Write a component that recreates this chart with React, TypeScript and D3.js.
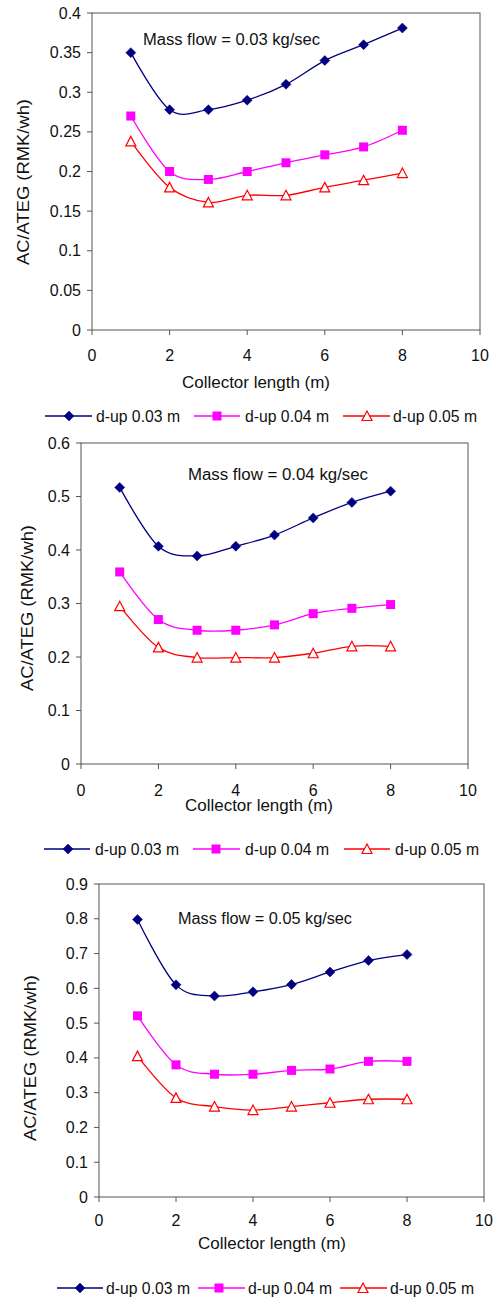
import React from "react";
import * as d3 from "d3";

const lengths = [1, 2, 3, 4, 5, 6, 7, 8];
const seriesNames = ["d-up 0.03 m", "d-up 0.04 m", "d-up 0.05 m"];
const xTicks = [0, 2, 4, 6, 8, 10];

const p1Titles = "Mass flow = 0.03 kg/sec";
const p1Up003 = [0.35, 0.278, 0.278, 0.29, 0.31, 0.34, 0.36, 0.381];
const p1Up004 = [0.27, 0.2, 0.19, 0.2, 0.211, 0.221, 0.231, 0.252];
const p1Up005 = [0.238, 0.18, 0.161, 0.17, 0.17, 0.18, 0.189, 0.198];
const p1YTicks = [0, 0.05, 0.1, 0.15, 0.2, 0.25, 0.3, 0.35, 0.4];

const p2Titles = "Mass flow = 0.04 kg/sec";
const p2Up003 = [0.517, 0.407, 0.389, 0.407, 0.428, 0.46, 0.489, 0.51];
const p2Up004 = [0.359, 0.27, 0.25, 0.25, 0.26, 0.281, 0.291, 0.298];
const p2Up005 = [0.295, 0.218, 0.199, 0.199, 0.199, 0.207, 0.22, 0.22];
const p2YTicks = [0, 0.1, 0.2, 0.3, 0.4, 0.5, 0.6];

const p3Titles = "Mass flow = 0.05 kg/sec";
const p3Up003 = [0.798, 0.61, 0.578, 0.59, 0.611, 0.647, 0.68, 0.697];
const p3Up004 = [0.521, 0.38, 0.353, 0.353, 0.364, 0.368, 0.39, 0.39];
const p3Up005 = [0.405, 0.285, 0.26, 0.25, 0.26, 0.271, 0.281, 0.281];
const p3YTicks = [0, 0.1, 0.2, 0.3, 0.4, 0.5, 0.6, 0.7, 0.8, 0.9];

const colors = ["#000080", "#ff00ff", "#ff0000"];
const FONT = "Arial, 'Liberation Sans', sans-serif";
const TXT = "#111";
const AX = "#555";
const FS = 16;

function Marker({ kind, x, y }: { kind: number; x: number; y: number }) {
  if (kind === 0) {
    const r = 5;
    return (
      <path
        d={`M${x},${y - r}L${x + r},${y}L${x},${y + r}L${x - r},${y}Z`}
        fill={colors[0]}
        stroke={colors[0]}
        strokeWidth={0.5}
      />
    );
  }
  if (kind === 1) {
    const s = 9;
    return <rect x={x - s / 2} y={y - s / 2} width={s} height={s} fill={colors[1]} />;
  }
  const h = 9;
  const w = 10;
  return (
    <path
      d={`M${x},${y - h / 2 - 0.5}L${x + w / 2},${y + h / 2}L${x - w / 2},${y + h / 2}Z`}
      fill="#fff"
      stroke={colors[2]}
      strokeWidth={1.2}
    />
  );
}

type PanelCfg = {
  left: number;
  right: number;
  top: number;
  bottom: number;
  yMax: number;
  yTicks: number[];
  series: number[][];
  title: string;
  titleX: number;
  titleY: number;
  titleW: number;
  xLabelY: number;
  xTitleX: number;
  xTitleY: number;
  yTitleX: number;
  yTitleY: number;
  legendY: number;
  legend: { x1: number; x2: number; m: number; t: number }[];
};

function Panel({ c }: { c: PanelCfg }) {
  const x = d3.scaleLinear().domain([0, 10]).range([c.left, c.right]);
  const y = d3.scaleLinear().domain([0, c.yMax]).range([c.bottom, c.top]);
  const line = d3
    .line<number>()
    .x((_, i) => x(lengths[i]))
    .y((d) => y(d))
    .curve(d3.curveCardinal.tension(0));
  const fmt = (v: number) => String(+v.toFixed(2));
  return (
    <g>
      <rect
        x={c.left}
        y={c.top}
        width={c.right - c.left}
        height={c.bottom - c.top}
        fill="none"
        stroke={AX}
        strokeWidth={1}
      />
      {c.yTicks.map((t) => (
        <g key={"y" + t}>
          <line x1={c.left - 5} x2={c.left} y1={y(t)} y2={y(t)} stroke={AX} />
          <text
            x={c.left - 11}
            y={y(t)}
            dy="0.35em"
            textAnchor="end"
            fontSize={FS}
            fontFamily={FONT}
            fill={TXT}
          >
            {fmt(t)}
          </text>
        </g>
      ))}
      {xTicks.map((t) => (
        <g key={"x" + t}>
          <line x1={x(t)} x2={x(t)} y1={c.bottom} y2={c.bottom + 5} stroke={AX} />
          <text
            x={x(t)}
            y={c.xLabelY}
            dy="0.35em"
            textAnchor="middle"
            fontSize={FS}
            fontFamily={FONT}
            fill={TXT}
          >
            {t}
          </text>
        </g>
      ))}
      <text
        x={c.xTitleX}
        y={c.xTitleY}
        dy="0.35em"
        textAnchor="middle"
        fontSize={FS}
        fontFamily={FONT}
        fill={TXT}
        textLength={148}
        lengthAdjust="spacingAndGlyphs"
      >
        Collector length (m)
      </text>
      <text
        transform={`translate(${c.yTitleX},${c.yTitleY}) rotate(-90)`}
        dy="0.35em"
        textAnchor="middle"
        fontSize={FS}
        fontFamily={FONT}
        fill={TXT}
        textLength={166}
        lengthAdjust="spacingAndGlyphs"
      >
        AC/ATEG (RMK/wh)
      </text>
      <text
        x={c.titleX}
        y={c.titleY}
        dy="0.35em"
        fontSize={FS}
        fontFamily={FONT}
        fill={TXT}
        textLength={c.titleW}
        lengthAdjust="spacingAndGlyphs"
      >
        {c.title}
      </text>
      {c.series.map((s, k) => (
        <g key={"s" + k}>
          <path d={line(s) || ""} fill="none" stroke={colors[k]} strokeWidth={1.3} />
          {s.map((v, i) => (
            <Marker key={i} kind={k} x={x(lengths[i])} y={y(v)} />
          ))}
        </g>
      ))}
      {c.legend.map((l, k) => (
        <g key={"l" + k}>
          <line x1={l.x1} x2={l.x2} y1={c.legendY} y2={c.legendY} stroke={colors[k]} strokeWidth={1.3} />
          <Marker kind={k} x={l.m} y={c.legendY} />
          <text
            x={l.t}
            y={c.legendY}
            dy="0.35em"
            fontSize={FS}
            fontFamily={FONT}
            fill={TXT}
            textLength={84}
            lengthAdjust="spacingAndGlyphs"
          >
            {seriesNames[k]}
          </text>
        </g>
      ))}
    </g>
  );
}

const panels: PanelCfg[] = [
  {
    left: 92, right: 480, top: 13, bottom: 330, yMax: 0.4, yTicks: p1YTicks,
    series: [p1Up003, p1Up004, p1Up005], title: p1Titles, titleX: 143, titleY: 39, titleW: 177,
    xLabelY: 355, xTitleX: 256, xTitleY: 382, yTitleX: 23, yTitleY: 182, legendY: 416,
    legend: [
      { x1: 45, x2: 92, m: 69, t: 96 },
      { x1: 194, x2: 240, m: 217, t: 245 },
      { x1: 343, x2: 390, m: 367, t: 393 },
    ],
  },
  {
    left: 81, right: 468, top: 443, bottom: 764, yMax: 0.6, yTicks: p2YTicks,
    series: [p2Up003, p2Up004, p2Up005], title: p2Titles, titleX: 188, titleY: 474, titleW: 180,
    xLabelY: 790, xTitleX: 259, xTitleY: 805, yTitleX: 27, yTitleY: 608, legendY: 849,
    legend: [
      { x1: 44, x2: 90, m: 68, t: 95 },
      { x1: 193, x2: 240, m: 216, t: 245 },
      { x1: 344, x2: 390, m: 367, t: 395 },
    ],
  },
  {
    left: 99, right: 484, top: 884, bottom: 1197, yMax: 0.9, yTicks: p3YTicks,
    series: [p3Up003, p3Up004, p3Up005], title: p3Titles, titleX: 178, titleY: 918, titleW: 174,
    xLabelY: 1220, xTitleX: 272, xTitleY: 1243, yTitleX: 30, yTitleY: 1058, legendY: 1288,
    legend: [
      { x1: 57, x2: 103, m: 80, t: 106 },
      { x1: 198, x2: 245, m: 219, t: 248 },
      { x1: 340, x2: 387, m: 363, t: 390 },
    ],
  },
];

export default function App() {
  return (
    <svg
      width={495}
      height={1301}
      style={{ position: "absolute", left: 0, top: 0, background: "#fff" }}
    >
      <rect width={495} height={1301} fill="#fff" />
      {panels.map((c, i) => (
        <Panel key={i} c={c} />
      ))}
    </svg>
  );
}
